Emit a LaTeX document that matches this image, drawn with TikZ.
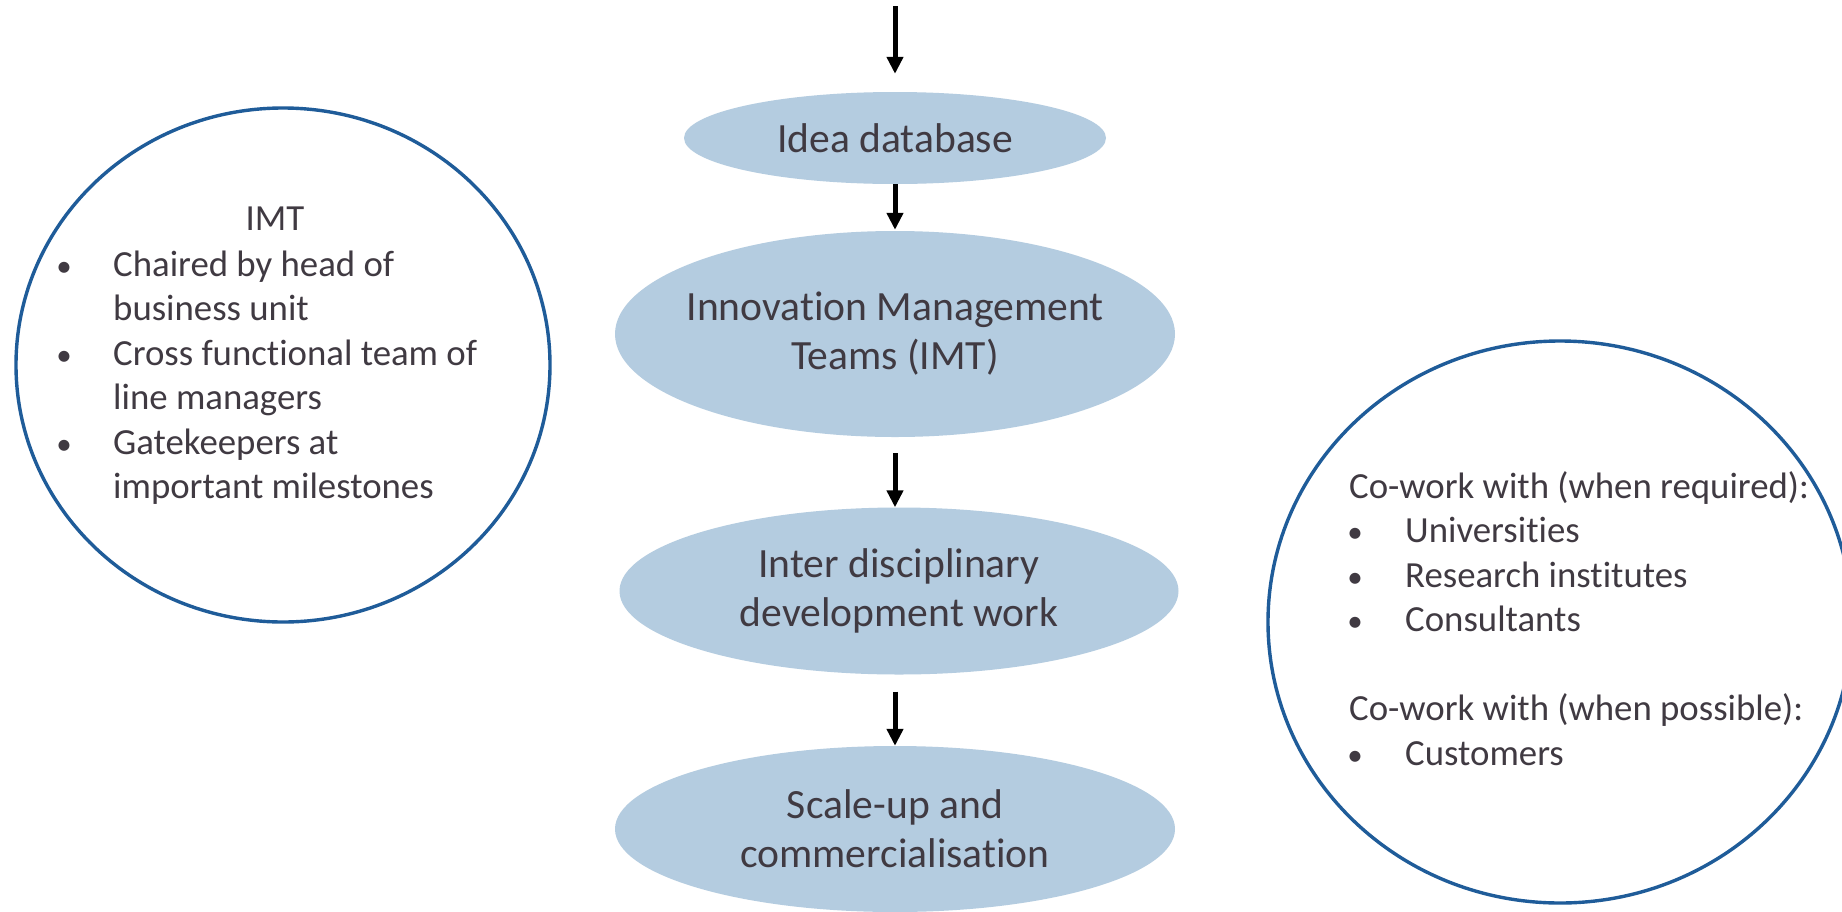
\documentclass[tikz,border=0pt]{standalone}
\usepackage{fontspec}
\setmainfont{Carlito}[Ligatures=NoCommon]
\usetikzlibrary{arrows.meta,shapes.geometric}
\definecolor{ellfill}{RGB}{180,204,224}
\definecolor{circblue}{RGB}{31,92,153}
\definecolor{txtgray}{RGB}{64,58,66}
\begin{document}
\begin{tikzpicture}[x=1pt,y=-1pt,
  stage/.style={ellipse,fill=ellfill,draw=none,inner sep=0pt},
  stagetext/.style={inner sep=0pt,text=txtgray,align=center,
    font=\fontsize{41.6pt}{49pt}\selectfont},
  ring/.style={ellipse,draw=circblue,line width=3.4pt,fill=none,inner sep=0pt},
  flowarrow/.style={-{Triangle[width=16pt,length=17pt]},line width=5pt,black},
  line/.style={inner sep=0pt,text=txtgray,font=\fontsize{36.8pt}{44pt}\selectfont,anchor=base west},
  bul/.style={inner sep=0pt,text=txtgray,font=\fontsize{31pt}{44pt}\selectfont,anchor=base},
  ttl/.style={inner sep=0pt,text=txtgray,font=\fontsize{36.8pt}{44pt}\selectfont,anchor=base}]
\useasboundingbox (0,0) rectangle (1842,911);
\clip (0,0) rectangle (1842,911);
\fill[white] (0,0) rectangle (1842,911);

% central flow
\coordinate (top) at (895,6);
\node[stage,minimum width=422pt,minimum height=92pt,
  label={[stagetext]center:Idea database}] (idea) at (895,138) {};
\node[stage,minimum width=560pt,minimum height=206pt,
  label={[stagetext]center:Innovation Management\\Teams (IMT)}] (imt) at (895,334) {};
\node[stage,minimum width=559pt,minimum height=167pt,
  label={[stagetext]center:Inter disciplinary\\development work}] (inter) at (899,591) {};
\node[stage,minimum width=560pt,minimum height=166pt,
  label={[stagetext]center:Scale-up and\\commercialisation}] (scale) at (895,829) {};

\draw[flowarrow,shorten >=18pt] (top) -- (idea.north);
\draw[flowarrow,shorten >=1pt] (idea.south) -- (imt.north);
\draw[flowarrow,shorten <=16pt] (imt.south) -- (imt.south |- inter.north);
\draw[flowarrow,shorten <=17pt] (inter.south -| imt.south) -- (scale.north);

% left circle
\node[ring,minimum width=534pt,minimum height=514pt] (leftc) at (283,365) {};
\node[ttl] (ltitle) at (275,230) {IMT};
\node[bul] (lb1) at (64,276) {•};
\node[line] (l1a) at (113,276) {Chaired by head of};
\node[line] (l1b) at (113,320.5) {business unit};
\node[bul] (lb2) at (64,365) {•};
\node[line] (l2a) at (113,365) {Cross functional team of};
\node[line] (l2b) at (113,409.5) {line managers};
\node[bul] (lb3) at (64,454) {•};
\node[line] (l3a) at (113,454) {Gatekeepers at};
\node[line] (l3b) at (113,498.5) {important milestones};

% right circle
\node[ring,minimum width=584pt,minimum height=562pt] (rightc) at (1560,622) {};
\node[line] (r1) at (1349,498) {Co-work with (when required):};
\node[bul] (rb1) at (1355,542.5) {•};
\node[line] (r2) at (1405,542.5) {Universities};
\node[bul] (rb2) at (1355,587) {•};
\node[line] (r3) at (1405,587) {Research institutes};
\node[bul] (rb3) at (1355,631.5) {•};
\node[line] (r4) at (1405,631.5) {Consultants};
\node[line] (r5) at (1349,720.5) {Co-work with (when possible):};
\node[bul] (rb4) at (1355,765) {•};
\node[line] (r6) at (1405,765) {Customers};
\end{tikzpicture}
\end{document}
